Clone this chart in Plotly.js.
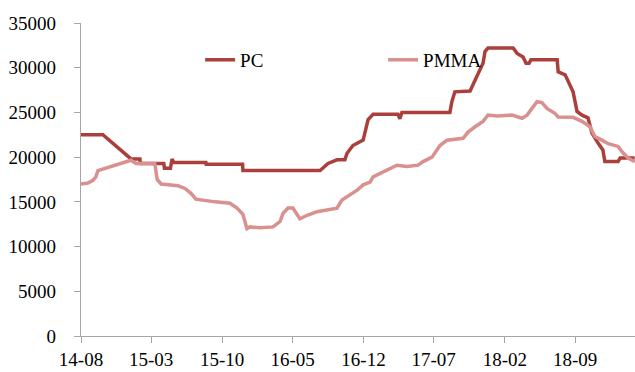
<!DOCTYPE html>
<html>
<head>
<meta charset="utf-8">
<script src="https://cdn.plot.ly/plotly-3.0.1.min.js"></script>
<style>html,body{margin:0;padding:0;background:#fff;}#chart{width:635px;height:372px;}</style>
</head>
<body>
<div id="chart"></div>
<script>
var pcDates = ['2014-08-01','2014-10-06','2014-12-30','2015-01-26','2015-01-27','2015-04-08','2015-04-10','2015-04-28','2015-05-03','2015-05-08','2015-08-13','2015-08-14','2015-12-02','2015-12-03','2016-07-23','2016-08-07','2016-08-16','2016-09-12','2016-10-06','2016-10-12','2016-10-30','2016-11-30','2016-12-06','2016-12-15','2016-12-30','2017-02-28','2017-03-15','2017-03-21','2017-03-27','2017-08-19','2017-08-25','2017-09-03','2017-10-19','2017-11-03','2017-11-18','2017-11-27','2017-12-03','2017-12-12','2018-02-26','2018-03-10','2018-03-28','2018-04-06','2018-04-15','2018-04-21','2018-07-09','2018-07-12','2018-08-02','2018-08-17','2018-08-26','2018-09-07','2018-09-22','2018-10-10','2018-10-22','2018-11-09','2018-11-24','2018-11-30','2019-01-09','2019-01-15','2019-02-28'];
var pcValues = [22500,22500,19800,19800,19300,19300,18750,18750,19800,19400,19400,19200,19200,18500,18500,19000,19300,19700,19700,20400,21300,21900,23000,24200,24800,24800,24800,24300,25000,25000,26200,27300,27400,28600,29700,30500,31800,32200,32200,31600,31200,30500,30500,30900,30900,29550,29200,28100,27300,25100,24700,24400,22700,21600,20800,19500,19500,19900,19900];

var pmmaDates = ['2014-08-01','2014-08-22','2014-09-06','2014-09-15','2014-09-21','2014-12-30','2015-01-14','2015-03-12','2015-03-19','2015-03-31','2015-05-21','2015-06-11','2015-06-29','2015-07-14','2015-09-10','2015-10-01','2015-10-19','2015-10-25','2015-11-15','2015-12-03','2015-12-15','2015-12-24','2016-01-24','2016-03-03','2016-03-24','2016-04-02','2016-04-17','2016-05-02','2016-05-23','2016-06-14','2016-07-14','2016-08-13','2016-09-12','2016-09-27','2016-10-21','2016-11-12','2016-11-30','2016-12-21','2016-12-30','2017-01-29','2017-03-12','2017-04-12','2017-05-15','2017-05-30','2017-06-26','2017-07-20','2017-08-10','2017-09-28','2017-10-13','2017-11-03','2017-11-27','2017-12-12','2018-01-08','2018-02-23','2018-03-25','2018-04-09','2018-04-24','2018-05-09','2018-05-24','2018-06-08','2018-07-02','2018-07-12','2018-08-26','2018-09-22','2018-10-16','2018-10-31','2018-11-21','2018-12-10','2019-01-09','2019-01-21','2019-02-08','2019-03-01'];
var pmmaValues = [17000,17100,17400,17800,18500,19650,19300,19300,17500,17000,16800,16500,15950,15300,15000,14900,14800,14850,14300,13600,12000,12200,12100,12200,12800,13700,14300,14300,13100,13500,13900,14100,14300,15200,15800,16300,16900,17200,17800,18300,19100,18950,19100,19500,20000,21300,21900,22100,22800,23400,24000,24700,24600,24700,24350,24700,25450,26200,26100,25450,24900,24500,24450,24000,23400,22300,21900,21500,21200,20600,19900,19500];

var seriesNames = ['PC','PMMA'];
var yTicks = [0,5000,10000,15000,20000,25000,30000,35000];

var font = 'Liberation Serif, Times New Roman, serif';
var traces = [
  {x: pcDates, y: pcValues, name: seriesNames[0], type: 'scatter', mode: 'lines',
   line: {color: '#A9403B', width: 3.5}},
  {x: pmmaDates, y: pmmaValues, name: seriesNames[1], type: 'scatter', mode: 'lines',
   line: {color: '#D9908E', width: 3.5}}
];
var layout = {
  width: 635, height: 372,
  margin: {l: 81, r: 0, t: 23, b: 36, pad: 0},
  paper_bgcolor: '#fff', plot_bgcolor: '#fff',
  font: {family: font, size: 19, color: '#000'},
  showlegend: true,
  legend: {orientation: 'h', x: 0.215, y: 0.882, xanchor: 'left', yanchor: 'middle',
    entrywidth: 138, entrywidthmode: 'pixels', bgcolor: 'rgba(0,0,0,0)',
    font: {family: font, size: 19, color: '#000'}},
  xaxis: {type: 'date', range: ['2014-08-01','2019-03-01'], tick0: '2014-08-01', dtick: 'M7',
    tickformat: '%y-%m', showgrid: false, zeroline: false, showline: true,
    linecolor: '#A6A6A6', linewidth: 1.3, ticks: 'outside', ticklen: 6, tickcolor: '#A6A6A6',
    tickwidth: 1, ticklabelstandoff: 0, tickfont: {family: font, size: 19, color: '#000'}},
  yaxis: {range: [0, 35000], tickvals: yTicks, tickformat: 'd', showgrid: false, zeroline: false, showline: true,
    linecolor: '#A6A6A6', linewidth: 1.3, ticks: 'outside', ticklen: 6, tickcolor: '#A6A6A6',
    tickwidth: 1, ticklabelstandoff: 14, tickfont: {family: font, size: 19, color: '#000'}}
};
Plotly.newPlot('chart', traces, layout, {staticPlot: true, displayModeBar: false});
</script>
</body>
</html>
